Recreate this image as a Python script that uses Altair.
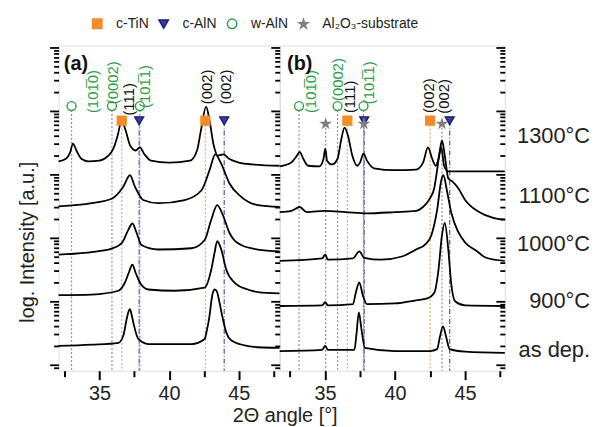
import math
import altair as alt
import pandas as pd

FONT = "Liberation Sans"

# ---------------- data (2θ in degrees, log-intensity in decades, a.u.) ----------------
A_ASDEP_X = [32.07, 34.45, 36.36, 36.71, 36.95, 37.07, 37.19, 37.3, 37.43, 37.79, 38.5, 41.6, 42.55, 42.7, 42.9, 43.05, 43.15, 43.26, 43.4, 43.62, 43.8, 44.1, 44.45, 45.4, 46.36, 47.93]
A_ASDEP_Y = [0.39, 0.41, 0.44, 0.55, 0.81, 0.92, 0.97, 0.89, 0.76, 0.50, 0.42, 0.42, 0.50, 0.63, 0.87, 1.13, 1.24, 1.28, 1.26, 1.07, 0.87, 0.60, 0.48, 0.40, 0.37, 0.36]
A_900_X = [32.07, 34.45, 36.36, 36.83, 37.1, 37.36, 37.6, 37.9, 38.5, 40.4, 42.55, 43.02, 43.25, 43.45, 43.74, 44.1, 44.69, 45.64, 46.36, 47.93]
A_900_Y = [1.19, 1.20, 1.26, 1.39, 1.54, 1.67, 1.54, 1.39, 1.28, 1.26, 1.31, 1.59, 1.85, 2.04, 1.91, 1.59, 1.39, 1.28, 1.24, 1.22]
A_1000_X = [32.07, 35.64, 36.6, 37.07, 37.36, 37.67, 38.02, 39.21, 41.6, 42.55, 43.02, 43.45, 43.86, 44.33, 45.17, 46.36, 47.93]
A_1000_Y = [1.83, 1.91, 2.01, 2.22, 2.32, 2.17, 1.98, 1.91, 1.93, 2.06, 2.38, 2.61, 2.45, 2.17, 1.98, 1.91, 1.88]
A_1100_X = [32.07, 34.45, 35.88, 36.71, 37.19, 37.55, 38.14, 39.21, 41.12, 42.31, 42.9, 43.31, 43.74, 44.33, 45.17, 46.36, 47.93]
A_1100_Y = [2.59, 2.64, 2.71, 2.90, 3.08, 2.90, 2.69, 2.64, 2.69, 2.84, 3.16, 3.41, 3.26, 2.95, 2.74, 2.61, 2.58]
A_1300_X = [32.07, 32.6, 32.9, 33.1, 33.35, 33.7, 34.2, 35.0, 35.6, 36.0, 36.3, 36.6, 36.85, 37.2, 37.6, 37.9, 38.2, 38.7, 40.0, 41.5, 42.0, 42.3, 42.65, 42.9, 43.2, 43.5, 43.9, 44.3, 45.0, 46.0, 47.93]
A_1300_Y = [3.30, 3.34, 3.44, 3.58, 3.47, 3.34, 3.30, 3.31, 3.38, 3.50, 3.70, 3.94, 3.81, 3.55, 3.47, 3.52, 3.42, 3.31, 3.28, 3.31, 3.47, 3.81, 4.16, 3.94, 3.55, 3.39, 3.41, 3.34, 3.28, 3.25, 3.23]

B_ASDEP_X = [31.77, 34.8, 35.02, 35.2, 37.1, 37.25, 37.42, 37.6, 37.85, 40.0, 42.5, 43.0, 43.2, 43.42, 43.65, 43.9, 45.0, 47.83]
B_ASDEP_Y = [0.31, 0.33, 0.39, 0.33, 0.33, 0.58, 0.92, 0.66, 0.36, 0.31, 0.31, 0.34, 0.53, 0.70, 0.53, 0.34, 0.30, 0.28]
B_900_X = [31.77, 34.8, 35.02, 35.2, 37.0, 37.2, 37.45, 37.7, 38.0, 40.0, 41.5, 42.3, 42.8, 43.1, 43.35, 43.55, 43.8, 44.0, 44.3, 45.0, 47.83]
B_900_Y = [1.02, 1.03, 1.08, 1.03, 1.05, 1.23, 1.39, 1.19, 1.05, 1.06, 1.11, 1.14, 1.23, 1.59, 2.14, 2.33, 1.91, 1.39, 1.09, 1.03, 1.02]
B_1000_X = [31.77, 34.8, 35.02, 35.2, 37.0, 37.45, 37.8, 39.0, 40.5, 41.5, 42.2, 42.6, 43.0, 43.3, 43.45, 43.7, 44.0, 44.5, 45.0, 45.8, 46.5, 47.83]
B_1000_Y = [1.73, 1.77, 1.83, 1.75, 1.77, 1.88, 1.78, 1.75, 1.80, 1.91, 2.00, 2.14, 2.53, 3.00, 3.08, 2.84, 2.50, 2.19, 2.02, 1.89, 1.78, 1.73]
B_1100_X = [31.77, 32.6, 33.2, 33.7, 35.0, 36.5, 38.0, 40.0, 41.5, 42.0, 42.5, 42.8, 43.0, 43.2, 43.35, 43.55, 43.8, 44.1, 44.5, 45.0, 46.0, 47.0, 47.83]
B_1100_Y = [2.50, 2.52, 2.58, 2.50, 2.52, 2.50, 2.48, 2.50, 2.52, 2.58, 2.72, 2.88, 3.16, 3.47, 3.63, 3.39, 3.03, 2.98, 2.88, 2.69, 2.50, 2.41, 2.38]
B_1300_X = [31.77, 32.6, 33.0, 33.2, 33.45, 33.8, 34.6, 34.9, 35.02, 35.15, 35.5, 35.9, 36.15, 36.4, 36.65, 36.95, 37.3, 37.5, 37.75, 38.0, 38.5, 40.0, 41.5, 42.0, 42.35, 42.65, 42.9, 43.1, 43.3, 43.5, 43.8, 45.0, 47.83]
B_1300_Y = [3.22, 3.28, 3.39, 3.45, 3.34, 3.23, 3.22, 3.34, 3.50, 3.31, 3.25, 3.34, 3.63, 3.83, 3.70, 3.39, 3.23, 3.28, 3.42, 3.31, 3.19, 3.16, 3.17, 3.28, 3.52, 3.34, 3.23, 3.34, 3.52, 3.23, 3.14, 3.14, 3.14]

PHASES = ["c-TiN", "c-AlN", "w-AlN", "Al₂O₃-substrate"]
MARKER_LEVEL = {"c-TiN": 3.94, "c-AlN": 3.94, "w-AlN": 4.17, "Al₂O₃-substrate": 3.89}

A_REF_POS = [36.6, 42.6, 37.85, 43.95, 33.0, 35.9, 37.9]
A_REF_PHASE = ["c-TiN", "c-TiN", "c-AlN", "c-AlN", "w-AlN", "w-AlN", "w-AlN"]
B_REF_POS = [36.6, 42.5, 37.8, 43.9, 33.15, 35.9, 37.75, 35.05, 37.78, 43.35]
B_REF_PHASE = ["c-TiN", "c-TiN", "c-AlN", "c-AlN", "w-AlN", "w-AlN", "w-AlN",
               "Al₂O₃-substrate", "Al₂O₃-substrate", "Al₂O₃-substrate"]

HKL_101_0 = "(101\u03050)"
HKL_101_1 = "(101\u03051)"
A_HKL_TEXT = [HKL_101_0, "(0002)", "(111)", HKL_101_1, "(002)", "(002)"]
A_HKL_POS = [34.57, 35.95, 37.15, 38.25, 42.7, 44.07]
A_HKL_LVL = [4.06, 4.20, 4.02, 4.14, 4.20, 4.20]
B_HKL_TEXT = [HKL_101_0, "(0002)", "(111)", HKL_101_1, "(002)", "(002)"]
B_HKL_POS = [34.03, 35.94, 36.79, 38.17, 42.45, 43.51]
B_HKL_LVL = [4.06, 4.25, 4.06, 4.20, 4.06, 4.05]
HKL_KIND = ["w", "w", "c", "w", "c", "c"]

TEMP_LABELS = ["1300°C", "1100°C", "1000°C", "900°C", "as dep."]
TEMP_LVL = [3.69, 2.76, 1.99, 1.10, 0.33]

# ---------------- style ----------------
ORANGE = "#F28C28"
BLUE = "#3B3BA8"
BLUE_DARK = "#1C1C70"
GREEN = "#2E9E48"
GRAY = "#7F7F7F"
STAR = "M0,-1L0.2245,-0.309L0.951,-0.309L0.363,0.118L0.588,0.809L0,0.382L-0.588,0.809L-0.363,0.118L-0.951,-0.309L-0.2245,-0.309Z"

W_A, W_B, H = 223, 227, 328
XDOM_A = [32.07, 47.93]
XDOM_B = [31.77, 47.83]
YDOM = [0, 5.125]
DEC0 = 0.094
YTICKS = [round(DEC0 + n + math.log10(k), 4) for n in range(-1, 6) for k in range(1, 10)
          if YDOM[0] <= DEC0 + n + math.log10(k) <= YDOM[1]]
MAJOR_Y = f"abs(datum.value - {DEC0} - round(datum.value - {DEC0})) < 0.01"
XTICKS = [32.5, 35, 37.5, 40, 42.5, 45, 47.5]

LINE_STYLE = {
    "c-TiN": ("#F0A65A", [2, 2]),
    "c-AlN": ("#4B57A8", [5, 2, 1, 2]),
    "w-AlN": ("#8193B8", [2, 2]),
    "Al₂O₃-substrate": ("#8C8C9C", [2, 2]),
}


def curves_df(series):
    rows = []
    for name, xs, ys in series:
        for i, (x, y) in enumerate(zip(xs, ys)):
            rows.append({"curve": name, "deg": x, "lvl": y, "i": i})
    return pd.DataFrame(rows)


def yaxis_left(offset=0, **kw):
    return alt.Axis(orient="left", offset=offset, values=YTICKS, labels=False, domain=False,
                    grid=False, ticks=True, tickColor="black", tickWidth=1.8,
                    tickSize={"condition": {"test": MAJOR_Y, "value": 9}, "value": 5}, **kw)


def xaxis(**kw):
    return alt.Axis(values=XTICKS, grid=False, domain=False, tickColor="black", tickWidth=2,
                    tickSize={"condition": {"test": "datum.value % 5 == 0", "value": 9}, "value": 6},
                    labelExpr="datum.value % 5 == 0 ? datum.label : ''",
                    labelFont=FONT, labelFontSize=20, labelColor="#222", labelPadding=4, **kw)


def panel(xdom, width, series, ref_pos, ref_phase, hkl_text, hkl_pos, hkl_lvl, tag, tag_pos,
          is_a):
    xs = alt.Scale(domain=xdom, nice=False, zero=False)
    ys = alt.Scale(domain=YDOM, nice=False, zero=False)

    if is_a:
        xax = xaxis(title="2\u0398 angle [°]", titleX=228, titleY=45, titleBaseline="middle",
                    titleAlign="center", titleFont=FONT, titleFontSize=20,
                    titleFontWeight="normal", titleColor="#222")
        yax = yaxis_left(0, title="log. Intensity [a.u.]", titleFont=FONT, titleFontSize=20,
                         titleFontWeight="normal", titleColor="#222", titleX=-31, titleY=198,
                         titleBaseline="middle", titleAlign="center")
        yother = yax
    else:
        xax = xaxis(title=None)
        yax = yaxis_left(0, title=None)
        yother = None

    X = alt.X("deg:Q", scale=xs, axis=xax)
    Yo = alt.Y("lvl:Q", scale=ys, axis=yother)
    layers = []

    refs = pd.DataFrame({"deg": ref_pos, "phase": ref_phase,
                         "lvl": [MARKER_LEVEL[p] for p in ref_phase]})
    for ph, (col, dash) in LINE_STYLE.items():
        sub = refs[refs.phase == ph]
        if len(sub) == 0:
            continue
        layers.append(alt.Chart(sub).mark_rule(color=col, strokeDash=dash, strokeWidth=1.2).encode(
            x=X, y=Yo, y2=alt.datum(0)))

    layers.append(alt.Chart(curves_df(series)).mark_line(
        color="black", strokeWidth=1.8, interpolate="monotone").encode(
        x=X, y=alt.Y("lvl:Q", scale=ys, axis=yax),
        detail="curve:N", order="i:Q"))

    field = "phase" if is_a else "phase_b"
    refs2 = refs.rename(columns={"phase": field})
    if is_a:
        leg = alt.Legend(orient="none", legendX=32, legendY=-29, direction="horizontal",
                         columns=4, title=None, labelFont=FONT, labelFontSize=14,
                         labelColor="#222", symbolSize=90, symbolStrokeWidth=1.5,
                         columnPadding=7, labelOffset=12)
    else:
        leg = None
    layers.append(alt.Chart(refs2).mark_point(filled=True, size=80, strokeWidth=1.4, opacity=1).encode(
        x=X, y=Yo,
        shape=alt.Shape(f"{field}:N", scale=alt.Scale(domain=PHASES, range=["square", "triangle-down", "circle", STAR]), legend=leg),
        fill=alt.Fill(f"{field}:N", scale=alt.Scale(domain=PHASES, range=[ORANGE, BLUE, "white", GRAY]), legend=leg),
        stroke=alt.Stroke(f"{field}:N", scale=alt.Scale(domain=PHASES, range=[ORANGE, BLUE_DARK, GREEN, GRAY]), legend=leg),
    ))

    hkl = pd.DataFrame({"t": hkl_text, "deg": hkl_pos, "lvl": hkl_lvl,
                        "col": [GREEN if k == "w" else "#111" for k in HKL_KIND]})
    layers.append(alt.Chart(hkl).mark_text(angle=270, align="left", baseline="middle",
                                           font=FONT, fontSize=15).encode(
        x=X, y=Yo, text="t:N", color=alt.Color("col:N", scale=None)))

    tagdf = pd.DataFrame({"t": [tag], "deg": [tag_pos[0]], "lvl": [tag_pos[1]]})
    layers.append(alt.Chart(tagdf).mark_text(align="left", baseline="middle", font=FONT,
                                             fontSize=20, fontWeight="bold", color="#111").encode(
        x=X, y=Yo, text="t:N"))

    if not is_a:
        temps = pd.DataFrame({"t": TEMP_LABELS, "lvl": TEMP_LVL})
        layers.append(alt.Chart(temps).mark_text(align="right", baseline="middle", font=FONT,
                                                 fontSize=22, color="#222").encode(
            x=alt.value(width + 86),
            y=alt.Y("lvl:Q", scale=ys, axis=yaxis_left(-width, title=None)),
            text="t:N"))
        ch = alt.layer(*layers).resolve_scale(y="independent").resolve_axis(y="independent")
    else:
        ch = alt.layer(*layers)
    return ch.properties(width=width, height=H)


panel_a = panel(XDOM_A, W_A,
                [("as dep.", A_ASDEP_X, A_ASDEP_Y), ("900", A_900_X, A_900_Y),
                 ("1000", A_1000_X, A_1000_Y), ("1100", A_1100_X, A_1100_Y),
                 ("1300", A_1300_X, A_1300_Y)],
                A_REF_POS, A_REF_PHASE, A_HKL_TEXT, A_HKL_POS, A_HKL_LVL, "(a)", (32.45, 4.84), True)
panel_b = panel(XDOM_B, W_B,
                [("as dep.", B_ASDEP_X, B_ASDEP_Y), ("900", B_900_X, B_900_Y),
                 ("1000", B_1000_X, B_1000_Y), ("1100", B_1100_X, B_1100_Y),
                 ("1300", B_1300_X, B_1300_Y)],
                B_REF_POS, B_REF_PHASE, B_HKL_TEXT, B_HKL_POS, B_HKL_LVL, "(b)", (32.3, 4.84), False)

chart = alt.hconcat(panel_a, panel_b, spacing=0, bounds="flush").properties(
    padding={"left": 9, "top": 7, "right": 5, "bottom": 5}
).configure_view(stroke="black", strokeWidth=3).configure(font=FONT)

chart.save("out.html", embed_options={"renderer": "svg", "actions": False})
